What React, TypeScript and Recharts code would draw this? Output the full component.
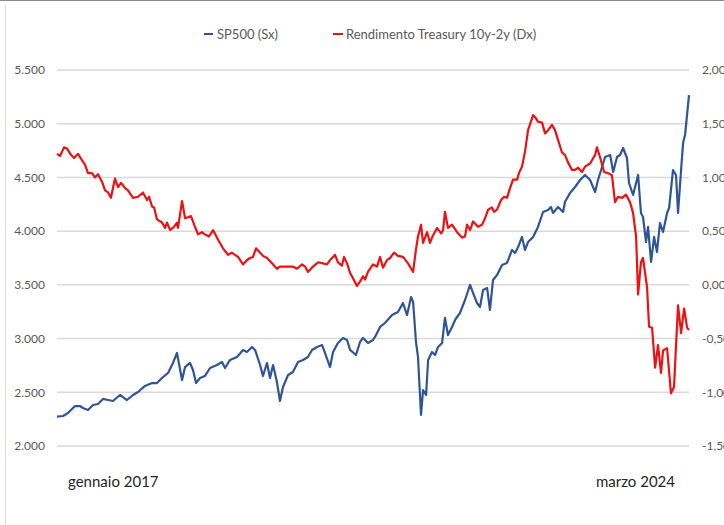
import React from "react";
import { LineChart, Line, XAxis, YAxis, CartesianGrid } from "recharts";

// Time index in weeks since January 2017 (0 = gennaio 2017, 375 = marzo 2024)
const spWeeks = [
  0, 3.6, 6.5, 10.7, 13.6, 15.4, 18.4, 21.4, 24.3, 27.3, 30.3, 33.2, 37.4, 41.5, 45.1, 48.1,
  52.2, 56.4, 59.3, 62.3, 65.9, 68.8, 71.2, 74.2, 76.0, 78.9, 80.7, 82.5, 84.9, 87.8, 90.8,
  94.9, 97.9, 99.7, 102.7, 106.8, 110.4, 112.7, 115.7, 117.5, 120.5, 122.2, 124.6, 126.4,
  128.2, 130.5, 132.3, 134.1, 137.1, 140.0, 143.0, 146.0, 148.9, 151.3, 154.3, 157.3, 159.0,
  162.0, 163.8, 166.7, 169.7, 172.1, 173.9, 177.4, 179.8, 181.6, 184.5, 187.5, 188.7, 191.7,
  194.6, 198.8, 202.3, 205.3, 207.7, 210.1, 211.3, 213.0, 214.2, 216.0, 217.2, 219.0, 220.2,
  222.5, 224.3, 226.1, 228.5, 230.2, 232.0, 234.4, 236.2, 239.1, 242.1, 245.1, 246.9, 249.2,
  251.0, 252.8, 255.2, 256.9, 258.7, 261.1, 264.1, 267.0, 270.0, 271.8, 273.6, 275.9, 277.7,
  279.5, 282.5, 285.4, 288.4, 291.4, 293.1, 294.3, 297.3, 300.3, 301.4, 304.4, 307.4, 310.4,
  313.3, 316.3, 319.3, 321.0, 323.4, 325.2, 328.2, 330.0, 332.3, 334.1, 335.9, 338.2, 339.4,
  341.8, 343.6, 344.8, 346.5, 347.7, 349.5, 350.7, 352.5, 354.3, 356.0, 357.8, 359.6, 362.0,
  363.2, 365.5, 367.3, 368.5, 370.3, 371.5, 372.7, 375,
];
const spValues = [
  2273, 2279, 2307, 2372, 2372, 2354, 2335, 2382, 2391, 2438, 2428, 2419, 2475, 2428, 2475, 2503,
  2559, 2586, 2586, 2633, 2680, 2773, 2866, 2614, 2735, 2773, 2707, 2586, 2633, 2652, 2726,
  2754, 2782, 2726, 2801, 2829, 2894, 2875, 2922, 2894, 2754, 2652, 2773, 2633,
  2754, 2596, 2419, 2549, 2661, 2689, 2782, 2801, 2829, 2894, 2922, 2940, 2866,
  2735, 2875, 2959, 3005, 2987, 2894, 2847, 2968, 3005, 2959, 2987, 3015, 3108,
  3145, 3219, 3247, 3331, 3219, 3387, 3341, 2968, 2829, 2289, 2521, 2475, 2801,
  2875, 2847, 2922, 2959, 3192, 3033, 3108, 3173, 3238, 3359, 3499, 3424, 3331,
  3294, 3452, 3471, 3266, 3545, 3592, 3685, 3704, 3825, 3797, 3852, 3946, 3825,
  3899, 3946, 4039, 4178, 4197, 4225, 4169, 4225, 4178, 4271, 4355, 4411, 4476,
  4523, 4476, 4364, 4476, 4597, 4690, 4709, 4551, 4690, 4709, 4774, 4681, 4448,
  4337, 4448, 4523, 4169, 4132, 3899, 4039, 3713, 3946, 3806, 4076, 3992, 4169,
  4216, 4569, 4523, 4169, 4569, 4821, 4900, 5267,
];

const trWeeks = [
  0, 1.8, 4.2, 5.9, 8.3, 10.1, 12.5, 14.8, 16.6, 18.4, 20.8, 22.5, 24.3, 26.7, 28.5, 30.3,
  32.0, 34.4, 36.2, 38.0, 40.4, 42.1, 45.1, 48.1, 51.0, 53.4, 54.6, 56.4, 57.6, 59.3, 62.3,
  64.1, 65.3, 67.1, 69.4, 71.2, 71.8, 74.2, 76.0, 77.7, 79.5, 81.9, 83.7, 86.0, 87.8, 90.2,
  92.6, 94.9, 96.7, 98.5, 101.5, 103.8, 105.6, 107.4, 110.4, 112.7, 114.5, 116.3, 118.1,
  120.5, 122.2, 124.6, 127.6, 130.5, 132.3, 134.1, 137.1, 140.0, 142.4, 145.4, 147.2, 148.9,
  151.9, 154.9, 157.8, 160.2, 162.0, 165.0, 166.7, 169.1, 170.3, 172.1, 173.9, 175.7, 178.0,
  179.8, 181.6, 182.8, 184.5, 187.5, 189.9, 191.7, 193.4, 195.8, 197.6, 200.0, 202.3, 205.3,
  208.3, 211.3, 213.0, 214.2, 216.0, 217.2, 219.6, 221.3, 223.1, 225.5, 227.9, 229.1, 230.2,
  232.0, 234.4, 237.4, 240.3, 242.1, 243.3, 245.1, 246.9, 249.8, 252.2, 254.0, 255.8, 258.1,
  259.3, 261.1, 263.5, 265.3, 267.0, 268.8, 270.6, 273.0, 274.1, 275.9, 277.7, 279.5, 282.5,
  284.2, 285.4, 287.8, 289.6, 291.4, 293.7, 295.5, 297.3, 299.7, 301.4, 303.2, 305.6, 307.4,
  309.2, 311.5, 313.3, 316.3, 319.3, 320.4, 322.2, 324.6, 327.0, 329.3, 331.1, 332.9, 335.3,
  337.6, 340.0, 341.8, 343.6, 344.8, 346.5, 347.7, 350.1, 351.3, 353.1, 354.9, 356.6, 358.4,
  359.6, 362.0, 364.3, 366.1, 368.5, 370.3, 372.1, 373.9, 375,
];
const trValues = [
  1.22, 1.2, 1.28, 1.27, 1.21, 1.18, 1.22, 1.16, 1.12, 1.04, 1.04, 1.0, 1.03, 0.96, 0.88, 0.86,
  0.81, 0.99, 0.91, 0.95, 0.9, 0.88, 0.81, 0.82, 0.86, 0.79, 0.82, 0.73, 0.72, 0.61, 0.58,
  0.53, 0.58, 0.51, 0.54, 0.58, 0.53, 0.78, 0.62, 0.63, 0.64, 0.54, 0.47, 0.49, 0.47, 0.45,
  0.51, 0.44, 0.39, 0.34, 0.28, 0.3, 0.28, 0.26, 0.19, 0.23, 0.25, 0.26, 0.34,
  0.3, 0.27, 0.25, 0.2, 0.15, 0.17, 0.17, 0.17, 0.17, 0.15, 0.19, 0.17, 0.12,
  0.17, 0.21, 0.2, 0.19, 0.23, 0.28, 0.21, 0.18, 0.26, 0.2, 0.11, 0.06, -0.01,
  0.03, 0.08, 0.05, 0.12, 0.19, 0.17, 0.26, 0.16, 0.23, 0.25, 0.3, 0.27, 0.26,
  0.2, 0.12, 0.33, 0.45, 0.56, 0.39, 0.49, 0.39, 0.46, 0.53, 0.48, 0.51, 0.68,
  0.53, 0.56, 0.49, 0.44, 0.45, 0.56, 0.51, 0.59, 0.54, 0.56, 0.62, 0.7, 0.72,
  0.68, 0.7, 0.79, 0.82, 0.81, 0.9, 0.98, 0.98, 1.04, 1.1, 1.24, 1.44, 1.58,
  1.55, 1.52, 1.51, 1.41, 1.44, 1.49, 1.44, 1.35, 1.23, 1.21, 1.14, 1.07, 1.07,
  1.09, 1.05, 1.1, 1.13, 1.21, 1.28, 1.19, 1.05, 1.04, 1.02, 0.77, 0.82, 0.81,
  0.84, 0.77, 0.67, 0.45, -0.09, 0.21, 0.25, -0.02, -0.39, -0.4, -0.77, -0.56, -0.82,
  -0.61, -0.59, -1.01, -0.95, -0.19, -0.45, -0.22, -0.4, -0.42,
];

const leftTicks = [2000, 2500, 3000, 3500, 4000, 4500, 5000, 5500];
const rightTicks = [-1.5, -1, -0.5, 0, 0.5, 1, 1.5, 2];
const xTicks = [0, 375];
const xLabels = ["gennaio 2017", "marzo 2024"];
const seriesNames = ["SP500 (Sx)", "Rendimento Treasury 10y-2y (Dx)"];

const spData = spWeeks.map((w, i) => ({ w, sp: spValues[i] }));
const trData = trWeeks.map((w, i) => ({ w, tr: trValues[i] }));

const FONT = "Lato, 'Open Sans', sans-serif";
const BLUE = "#2f5597";
const RED = "#ee1111";

const fmtLeft = (v: number) => {
  const th = Math.floor(v / 1000);
  const rest = String(v % 1000).padStart(3, "0");
  return `${th}.${rest}`;
};
const fmtRight = (v: number) => v.toFixed(2).replace(".", ",");

const XTick = (props: any) => {
  const { x, y, payload, index } = props;
  const first = index === 0;
  return (
    <text
      x={x + (first ? 11 : -14)}
      y={y + 33}
      textAnchor={first ? "start" : "end"}
      fontFamily={FONT}
      fontSize={15}
      fill="#262626"
    >
      {xLabels[xTicks.indexOf(payload.value)]}
    </text>
  );
};

export default function App() {
  return (
    <div
      style={{
        position: "absolute",
        left: 0,
        top: 0,
        width: 724,
        height: 525,
        background: "#fff",
        overflow: "hidden",
      }}
    >
      <div style={{ position: "absolute", left: 0, top: 0, width: 724, height: 1, background: "#8a8a8a" }} />
      <div style={{ position: "absolute", left: 5, top: 5, width: 1, height: 520, background: "#d9d9d9" }} />
      <div
        style={{
          position: "absolute",
          top: 26,
          left: 204,
          display: "flex",
          alignItems: "center",
          fontFamily: FONT,
          fontSize: 13,
          color: "#595959",
          whiteSpace: "nowrap",
        }}
      >
        <span style={{ display: "inline-block", width: 9, height: 2, background: BLUE, marginRight: 4 }} />
        <span>{seriesNames[0]}</span>
        <span style={{ display: "inline-block", width: 10, height: 2, background: RED, marginLeft: 55, marginRight: 3 }} />
        <span>{seriesNames[1]}</span>
      </div>
      <LineChart
        width={724}
        height={525}
        margin={{ top: 70, right: 0, bottom: 39, left: 0 }}
        style={{ position: "absolute", left: 0, top: 0 }}
      >
        <CartesianGrid yAxisId="left" vertical={false} stroke="#d9d9d9" strokeWidth={1.5} />
        <XAxis
          dataKey="w"
          type="number"
          domain={[0, 375]}
          ticks={xTicks}
          axisLine={false}
          tickLine={false}
          height={40}
          tick={<XTick />}
          allowDuplicatedCategory={false}
        />
        <YAxis
          yAxisId="left"
          orientation="left"
          width={57}
          domain={[2000, 5500]}
          ticks={leftTicks}
          tickFormatter={fmtLeft}
          axisLine={false}
          tickLine={false}
          tickMargin={6}
          tick={{ fontFamily: FONT, fontSize: 12, fill: "#595959" }}
        />
        <YAxis
          yAxisId="right"
          orientation="right"
          width={35}
          domain={[-1.5, 2]}
          ticks={rightTicks}
          tickFormatter={fmtRight}
          axisLine={false}
          tickLine={false}
          tickMargin={7}
          tick={{ fontFamily: FONT, fontSize: 12, fill: "#595959", textAnchor: "start" }}
        />
        <Line
          yAxisId="left"
          data={spData}
          dataKey="sp"
          name={seriesNames[0]}
          stroke={BLUE}
          strokeWidth={2.2}
          dot={false}
          isAnimationActive={false}
          strokeLinejoin="round"
        />
        <Line
          yAxisId="right"
          data={trData}
          dataKey="tr"
          name={seriesNames[1]}
          stroke={RED}
          strokeWidth={2.2}
          dot={false}
          isAnimationActive={false}
          strokeLinejoin="round"
        />
      </LineChart>
    </div>
  );
}
